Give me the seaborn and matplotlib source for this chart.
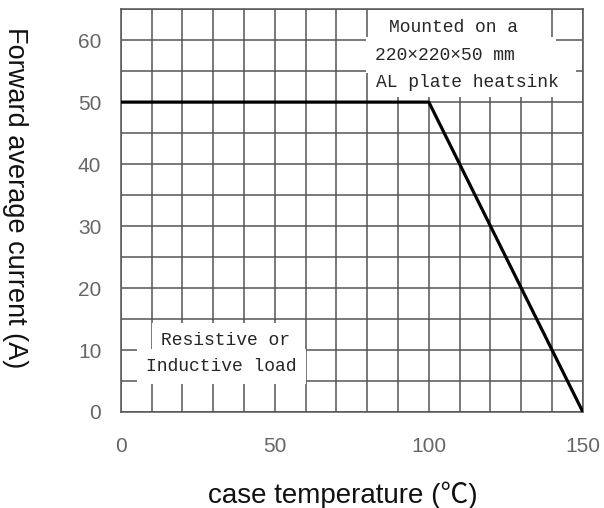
import numpy as np
import pandas as pd
import matplotlib
matplotlib.use("Agg")
import matplotlib.pyplot as plt
import seaborn as sns

# derating curve data
case_temp = [0, 100, 150]
fwd_current = [50, 50, 0]

x_ticks = [0, 50, 100, 150]
y_ticks = [0, 10, 20, 30, 40, 50, 60]

note_top = ["Mounted on a", "220×220×50 mm", "AL plate heatsink"]
note_bottom = ["Resistive or", "Inductive load"]

df = pd.DataFrame({"temp": case_temp, "current": fwd_current})

sns.set_style("white")
plt.rcParams["font.family"] = ["Liberation Sans", "Noto Sans CJK SC", "DejaVu Sans"]

fig = plt.figure(figsize=(6.04, 5.08), dpi=100)
ax = fig.add_axes([0.200, 0.189, 0.765, 0.793])

sns.lineplot(data=df, x="temp", y="current", sort=False, color="black",
             linewidth=2.3, ax=ax, zorder=8)

ax.set_xlim(0, 150)
ax.set_ylim(0, 65)
ax.set_xticks(x_ticks)
ax.set_yticks(y_ticks)
ax.set_xticks(np.arange(0, 151, 10), minor=True)
ax.set_yticks(np.arange(0, 66, 5), minor=True)
ax.grid(which="both", color="#555555", linewidth=1.1)
ax.tick_params(which="both", length=0, labelsize=15, labelcolor="#666666")
ax.tick_params(axis="x", pad=18)
ax.tick_params(axis="y", pad=14)
for s in ax.spines.values():
    s.set_color("#555555")
    s.set_linewidth(1.1)

ax.set_xlabel("case temperature (℃)", fontsize=20, color="#111111")
ax.set_ylabel("Forward average current (A)", fontsize=19.5, color="#111111",
              rotation=270, va="center", ha="center")
ax.xaxis.set_label_coords(0.48, -0.172)
ax.yaxis.set_label_coords(-0.229, 0.533)

box = dict(facecolor="white", edgecolor="none", pad=6.5)
box_low = dict(facecolor="white", edgecolor="none", pad=4.5)
mono = "Liberation Mono"
ax.text(87, 62.1, note_top[0] + "  ", family=mono, fontsize=13, va="center", bbox=box, zorder=4)
ax.text(82.5, 57.6, note_top[1] + "   ", family=mono, fontsize=13, va="center", bbox=box, zorder=5)
ax.text(82.8, 53.2, note_top[2] + " ", family=mono, fontsize=13, va="center", bbox=box_low, zorder=6)
ax.text(13.1, 11.6, note_bottom[0], family=mono, fontsize=13, va="center", bbox=box, zorder=4)
ax.text(8.2, 7.3, note_bottom[1], family=mono, fontsize=13, va="center", bbox=box, zorder=5)

fig.savefig("out.png", dpi=100)
